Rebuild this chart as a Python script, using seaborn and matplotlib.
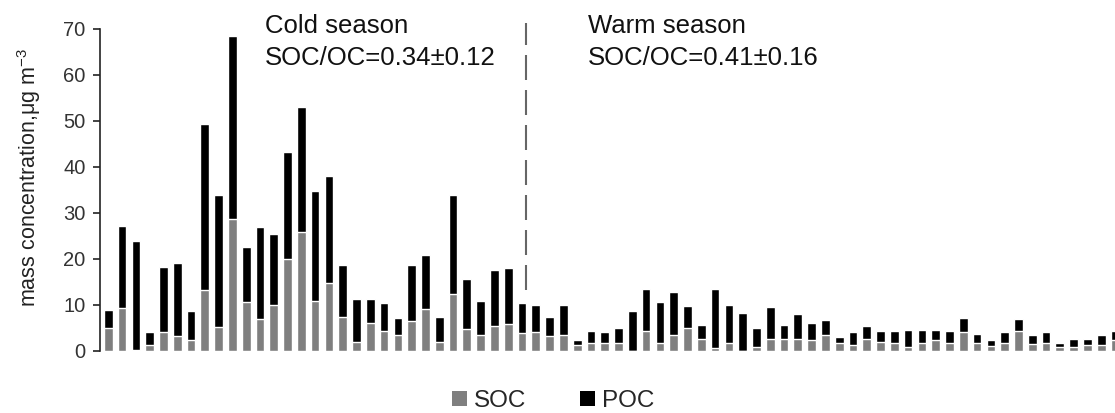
import matplotlib
matplotlib.use("Agg")
import matplotlib.pyplot as plt
from matplotlib.patches import Patch
import numpy as np
import pandas as pd
import seaborn as sns

# SOC / POC per sample (ug m-3)
soc = [5.1, 9.4, 0.2, 1.3, 4.1, 3.3, 2.4, 13.3, 5.2, 28.8,
       10.7, 6.9, 9.9, 19.9, 25.8, 10.9, 14.7, 7.3, 1.9, 6.0,
       4.4, 3.5, 6.5, 9.1, 1.9, 12.4, 4.7, 3.4, 5.4, 5.8,
       4.0, 4.1, 3.2, 3.5, 1.3, 1.8, 1.7, 1.8, 0.1, 4.3,
       1.7, 3.5, 4.9, 2.7, 0.6, 1.8, 0.0, 0.9, 2.7, 2.6,
       2.7, 2.5, 3.5, 1.8, 1.2, 2.7, 2.0, 1.8, 0.9, 1.8,
       2.4, 1.8, 4.1, 1.8, 1.0, 1.8, 4.3, 1.5, 1.8, 0.9,
       0.9, 1.2, 1.4, 2.5]
poc = [3.9, 17.8, 23.8, 2.9, 14.1, 15.9, 6.4, 36.1, 28.8, 39.6,
       12.0, 20.0, 15.6, 23.3, 27.2, 23.9, 23.3, 11.5, 9.5, 5.2,
       6.1, 3.6, 12.3, 11.8, 5.4, 21.6, 11.0, 7.5, 12.2, 12.2,
       6.5, 5.8, 4.2, 6.6, 1.2, 2.5, 2.5, 3.3, 8.7, 9.1,
       9.0, 9.4, 4.9, 2.9, 12.8, 8.1, 8.3, 4.2, 6.9, 3.1,
       5.3, 3.5, 3.3, 1.2, 2.9, 2.7, 2.4, 2.5, 3.7, 2.8,
       2.2, 2.5, 3.1, 2.0, 1.4, 2.3, 2.6, 2.0, 2.3, 0.9,
       1.7, 1.4, 2.0, 1.8]
n_cold = 31  # samples before the season break

cold_text = ["Cold season", "SOC/OC=0.34\u00b10.12"]
warm_text = ["Warm season", "SOC/OC=0.41\u00b10.16"]

df = pd.DataFrame({"sample": np.arange(len(soc)), "SOC": soc, "POC": poc})
df["total"] = df["SOC"] + df["POC"]

sns.set_theme(style="white")
plt.rcParams["font.family"] = ["Liberation Sans", "DejaVu Sans"]
plt.rcParams["mathtext.default"] = "regular"

fig = plt.figure(figsize=(11.15, 4.13), dpi=100)
ax = fig.add_axes([100 / 1115, 62 / 413, 1015 / 1115, 322 / 413])

gray = "#7f7f7f"
sns.barplot(data=df, x="sample", y="total", color="black", saturation=1,
            width=0.63, errorbar=None, ax=ax)
sns.barplot(data=df, x="sample", y="SOC", color=gray, saturation=1,
            width=0.63, errorbar=None, ax=ax)

ax.set_xlim(-0.6, 73.0)
ax.set_ylim(0, 70)
ax.set_yticks(range(0, 71, 10))
ax.set_xticks([])
ax.set_xlabel("")
ax.set_ylabel("mass concentration,\u03bcg m$^{-3}$", fontsize=15.5, color="#222222")
ax.yaxis.set_label_coords(-0.056, 0.54)

for s in ["top", "right", "bottom"]:
    ax.spines[s].set_visible(False)
ax.spines["left"].set_color("#222222")
ax.spines["left"].set_linewidth(1.2)
ax.tick_params(axis="y", direction="out", length=5, width=1.2, color="#222222",
               labelsize=14.5, labelcolor="#333333", pad=5.5, left=True)

# season break
ax.plot([n_cold - 0.68, n_cold - 0.68], [13.3, 71.4], color="#666666", lw=1.5,
        linestyle=(0, (12, 4.8)), clip_on=False)

fig.text(265 / 1115, 1 - 33.3 / 413, cold_text[0], fontsize=18.5, color="#111111")
fig.text(265 / 1115, 1 - 65 / 413, cold_text[1], fontsize=18.5, color="#111111")
fig.text(588 / 1115, 1 - 33.3 / 413, warm_text[0], fontsize=18.5, color="#111111")
fig.text(588 / 1115, 1 - 65 / 413, warm_text[1], fontsize=18.5, color="#111111")

handles = [Patch(facecolor=gray, edgecolor="none", label="SOC"),
           Patch(facecolor="black", edgecolor="none", label="POC")]
fig.legend(handles=handles, loc="center", bbox_to_anchor=(553 / 1115, 1 - 401 / 413),
           ncol=2, frameon=False, fontsize=17.5, handlelength=0.62, handleheight=0.62,
           handletextpad=0.3, columnspacing=2.2, borderpad=0)

fig.savefig("out.png", dpi=100)
